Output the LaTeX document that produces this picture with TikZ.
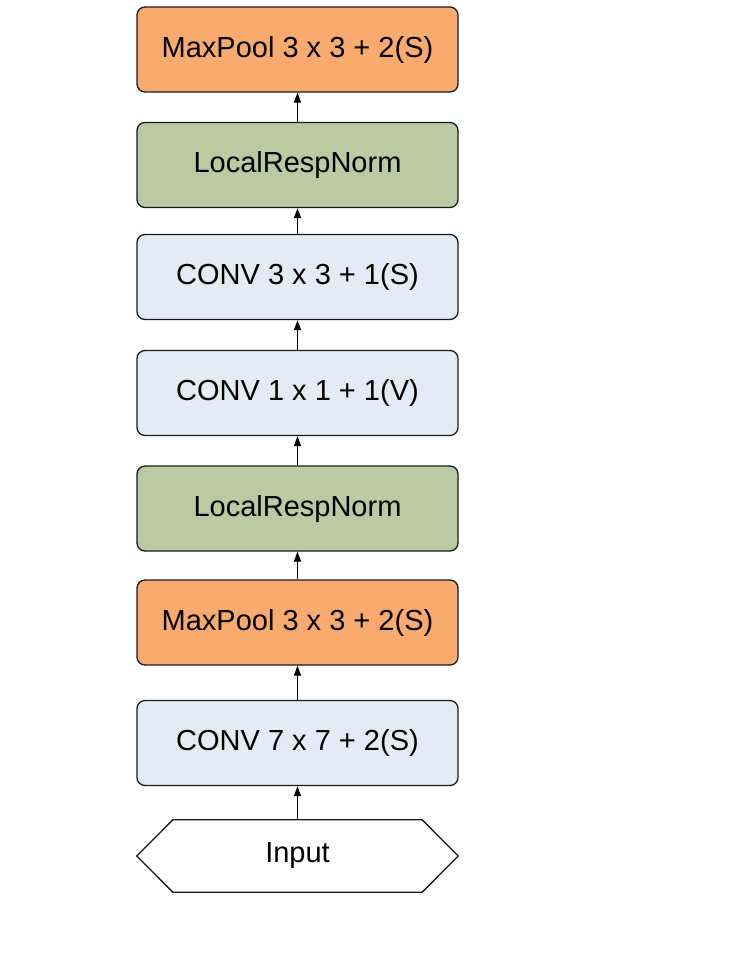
\documentclass[tikz,border=0pt]{standalone}
\usepackage{fontspec}
\setmainfont{Liberation Sans}
\usetikzlibrary{arrows.meta,calc}
\definecolor{pool}{HTML}{F9AA6E}
\definecolor{lrn}{HTML}{BBCAA2}
\definecolor{conv}{HTML}{E3ECF5}
\definecolor{edge}{HTML}{1A1A1A}
\tikzset{
  layer/.style={draw=edge, line width=1.3pt, rounded corners=8pt, minimum width=321pt, minimum height=85pt, inner sep=0pt, font=\fontsize{29}{30}\selectfont},
  poolbox/.style={layer, fill=pool},
  lrnbox/.style={layer, fill=lrn},
  convbox/.style={layer, fill=conv},
  flow/.style={draw=black, line width=1.3pt, -{Triangle[length=10pt,width=7pt]}},
}
\begin{document}
\begin{tikzpicture}[x=1pt,y=-1pt]
\useasboundingbox (0,0) rectangle (735,967);
\node[poolbox] (p2) at (297.5,49.5) {MaxPool 3 x 3 + 2(S)};
\node[lrnbox] (n2) at (297.5,165) {LocalRespNorm};
\node[convbox] (c3) at (297.5,277) {CONV 3 x 3 + 1(S)};
\node[convbox] (c2) at (297.5,393) {CONV 1 x 1 + 1(V)};
\node[lrnbox] (n1) at (297.5,508.5) {LocalRespNorm};
\node[poolbox] (p1) at (297.5,622.5) {MaxPool 3 x 3 + 2(S)};
\node[convbox] (c1) at (297.5,743) {CONV 7 x 7 + 2(S)};
\node[minimum width=321pt, minimum height=72pt, inner sep=0pt, font=\fontsize{29}{30}\selectfont] (in) at (297.5,856) {Input};
\draw[draw=edge, line width=1.3pt] (in.west) -- ([xshift=36pt]in.north west) -- ([xshift=-36pt]in.north east) -- (in.east) -- ([xshift=-36pt]in.south east) -- ([xshift=36pt]in.south west) -- cycle;
\draw[flow] (in.north) -- (c1.south);
\draw[flow] (c1.north) -- (p1.south);
\draw[flow] (p1.north) -- (n1.south);
\draw[flow] (n1.north) -- (c2.south);
\draw[flow] (c2.north) -- (c3.south);
\draw[flow] (c3.north) -- (n2.south);
\draw[flow] (n2.north) -- (p2.south);
\end{tikzpicture}
\end{document}
